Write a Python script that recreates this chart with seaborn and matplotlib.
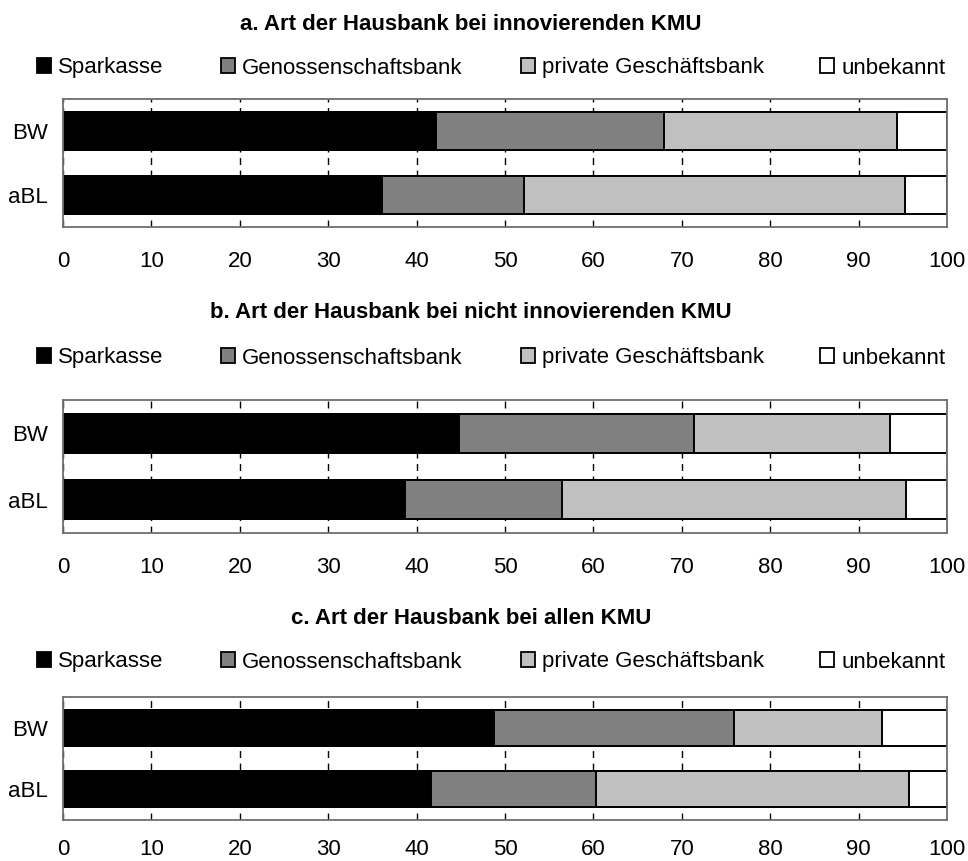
import matplotlib
matplotlib.use("Agg")
import matplotlib.pyplot as plt
import seaborn as sns
import numpy as np
from matplotlib.patches import Patch

# ---------------- data ----------------
regions = ["BW", "aBL"]
series = ["Sparkasse", "Genossenschaftsbank", "private Geschäftsbank", "unbekannt"]
series_colors = ["#000000", "#808080", "#c0c0c0", "#ffffff"]
titles = [
    "a. Art der Hausbank bei innovierenden KMU",
    "b. Art der Hausbank bei nicht innovierenden KMU",
    "c. Art der Hausbank bei allen KMU",
]

# panel a: innovierende KMU
sparkasse_a = [42.2, 36.1]
genossen_a = [25.8, 16.1]
privat_a = [26.3, 43.0]
unbekannt_a = [5.7, 4.8]
# panel b: nicht innovierende KMU
sparkasse_b = [44.8, 38.7]
genossen_b = [26.6, 17.8]
privat_b = [22.2, 38.9]
unbekannt_b = [6.4, 4.6]
# panel c: alle KMU
sparkasse_c = [48.7, 41.6]
genossen_c = [27.2, 18.7]
privat_c = [16.8, 35.4]
unbekannt_c = [7.3, 4.3]

x_ticks = list(range(0, 101, 10))

panels = [
    [sparkasse_a, genossen_a, privat_a, unbekannt_a],
    [sparkasse_b, genossen_b, privat_b, unbekannt_b],
    [sparkasse_c, genossen_c, privat_c, unbekannt_c],
]

# ---------------- style ----------------
sns.set_style("white")
plt.rcParams["font.family"] = ["Liberation Sans", "DejaVu Sans"]
plt.rcParams["text.color"] = "black"
plt.rcParams["xtick.color"] = "black"
plt.rcParams["ytick.color"] = "black"
plt.rcParams["legend.labelcolor"] = "black"
FS = 16.0

W, H = 968, 861
fig = plt.figure(figsize=(W / 100, H / 100), dpi=100)

# layout in pixels (top, bottom of axes), title y, legend y
ax_px = [(99, 227), (400, 533), (697, 820)]
title_y = [25, 313, 619]
legend_y = [68, 358, 662]
legend_x = [37, 221, 521, 820]
xpad = [17, 17, 14]
left_px, right_px = 63, 947
title_x = 471

for p, vals in enumerate(panels):
    top, bot = ax_px[p]
    ax = fig.add_axes([left_px / W, 1 - bot / H, (right_px - left_px) / W, (bot - top) / H])
    cum = np.cumsum(np.array(vals), axis=0)
    # draw from the outermost cumulative segment inward
    for i in range(len(series) - 1, -1, -1):
        sns.barplot(x=cum[i], y=regions, order=regions, orient="h",
                    color=series_colors[i], saturation=1, width=0.58,
                    edgecolor="black", linewidth=1.4, errorbar=None, ax=ax)
    ax.set_xlim(0, 100)
    ax.set_ylim(1.5, -0.5)
    ax.set_xticks(x_ticks)
    ax.set_xticklabels([str(t) for t in x_ticks])
    ax.set_xlabel("")
    ax.set_ylabel("")
    ax.set_axisbelow(True)
    ax.grid(axis="x", color="black", linewidth=1.0, linestyle=(0, (5, 4)))
    ax.grid(axis="y", visible=False)
    ax.tick_params(axis="x", length=0, pad=xpad[p], labelsize=FS, colors="black")
    ax.tick_params(axis="y", length=0, pad=11, labelsize=FS, colors="black")
    for s in ax.spines.values():
        s.set_visible(True)
        s.set_color("#6e6e6e")
        s.set_linewidth(1.3)

    fig.text(title_x / W, 1 - title_y[p] / H, titles[p], ha="center", va="center",
             fontsize=FS, fontweight="bold", color="black")

    for j, name in enumerate(series):
        handle = Patch(facecolor=series_colors[j], edgecolor="black", linewidth=1.3)
        fig.legend(handles=[handle], labels=[name], loc="center left",
                   bbox_to_anchor=(legend_x[j] / W, 1 - legend_y[p] / H),
                   bbox_transform=fig.transFigure, frameon=False,
                   borderpad=0, borderaxespad=0, handlelength=0.65,
                   handleheight=0.65, handletextpad=0.3, fontsize=FS,
                   labelcolor="black")

fig.savefig("out.png", dpi=100)
